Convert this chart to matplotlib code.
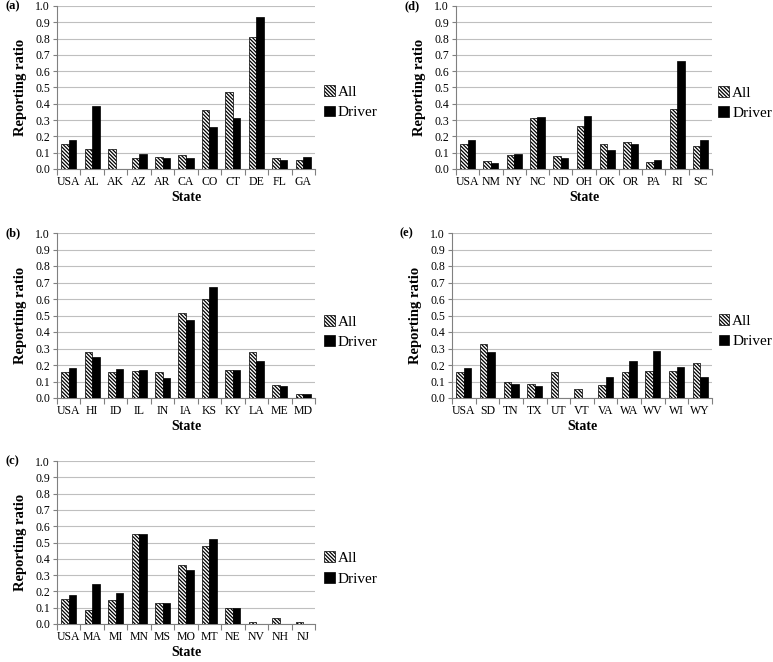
import numpy as np
import matplotlib
matplotlib.use("Agg")
import matplotlib.pyplot as plt

plt.rcParams['font.family'] = ['Liberation Serif', 'DejaVu Serif']
plt.rcParams['hatch.linewidth'] = 0.9

# data
states_a = ['USA', 'AL', 'AK', 'AZ', 'AR', 'CA', 'CO', 'CT', 'DE', 'FL', 'GA']
all_a = [0.155, 0.12, 0.125, 0.07, 0.075, 0.085, 0.365, 0.47, 0.81, 0.065, 0.055]
drv_a = [0.18, 0.385, 0.0, 0.095, 0.065, 0.065, 0.255, 0.31, 0.93, 0.055, 0.075]

states_b = ['USA', 'HI', 'ID', 'IL', 'IN', 'IA', 'KS', 'KY', 'LA', 'ME', 'MD']
all_b = [0.155, 0.28, 0.155, 0.165, 0.155, 0.515, 0.60, 0.17, 0.28, 0.08, 0.025]
drv_b = [0.18, 0.25, 0.175, 0.17, 0.12, 0.475, 0.675, 0.17, 0.225, 0.07, 0.025]

states_c = ['USA', 'MA', 'MI', 'MN', 'MS', 'MO', 'MT', 'NE', 'NV', 'NH', 'NJ']
all_c = [0.155, 0.085, 0.15, 0.555, 0.13, 0.365, 0.48, 0.10, 0.015, 0.035, 0.015]
drv_c = [0.18, 0.245, 0.19, 0.55, 0.13, 0.33, 0.52, 0.10, 0.0, 0.0, 0.0]

states_d = ['USA', 'NM', 'NY', 'NC', 'ND', 'OH', 'OK', 'OR', 'PA', 'RI', 'SC']
all_d = [0.155, 0.05, 0.085, 0.315, 0.08, 0.265, 0.155, 0.165, 0.045, 0.37, 0.14]
drv_d = [0.18, 0.035, 0.09, 0.32, 0.07, 0.325, 0.115, 0.155, 0.055, 0.66, 0.18]

states_e = ['USA', 'SD', 'TN', 'TX', 'UT', 'VT', 'VA', 'WA', 'WV', 'WI', 'WY']
all_e = [0.155, 0.325, 0.095, 0.085, 0.155, 0.055, 0.08, 0.155, 0.165, 0.165, 0.21]
drv_e = [0.18, 0.28, 0.085, 0.07, 0.0, 0.0, 0.13, 0.225, 0.285, 0.185, 0.125]

W, H = 773, 662
fig = plt.figure(figsize=(W / 100, H / 100), dpi=100)


def px_axes(l, r, t, b):
    return fig.add_axes([l / W, 1 - b / H, (r - l) / W, (b - t) / H])


def panel(ax, label, states, a, d, leg_x, leg_y):
    x = np.arange(len(states))
    bw = 0.32
    ax.bar(x - bw / 2, a, bw, color='white', edgecolor='black', hatch='\\' * 9,
           linewidth=0.5, label='All', zorder=3)
    ax.bar(x + bw / 2, d, bw, color='black', edgecolor='black', linewidth=0.5,
           label='Driver', zorder=3)
    ax.set_xlim(-0.5, len(states) - 0.5)
    ax.set_ylim(0, 1.0)
    ax.set_yticks(np.arange(0, 1.01, 0.1))
    ax.set_yticklabels(['%.1f' % v for v in np.arange(0, 1.01, 0.1)])
    ax.set_xticks(x)
    ax.set_xticklabels(states)
    ax.set_xticks(np.arange(-0.5, len(states), 1), minor=True)
    ax.tick_params(axis='x', which='major', length=0, labelsize=8.5, pad=5)
    ax.tick_params(axis='x', which='minor', length=4, color='#808080', width=0.8)
    ax.tick_params(axis='y', length=3, color='#808080', width=0.8, labelsize=8.5, pad=2)
    ax.grid(axis='y', color='#bfbfbf', linewidth=0.8, zorder=0)
    for s in ['top', 'right']:
        ax.spines[s].set_visible(False)
    for s in ['left', 'bottom']:
        ax.spines[s].set_color('#808080')
        ax.spines[s].set_linewidth(0.8)
    ax.set_ylabel('Reporting ratio', fontsize=10.5, fontweight='bold', labelpad=6)
    ax.set_xlabel('State', fontsize=10, fontweight='bold', labelpad=2)
    ax.legend(loc='center left', bbox_to_anchor=(leg_x, leg_y), frameon=False,
              fontsize=11, handlelength=0.7, handleheight=0.7, handletextpad=0.2,
              borderaxespad=0, borderpad=0, labelspacing=0.45)
    ax.text(-0.2, 1.0, label, transform=ax.transAxes, fontsize=9, fontweight='bold',
            ha='left', va='center')


ax_a = px_axes(57, 315, 6, 169)
panel(ax_a, '(a)', states_a, all_a, drv_a, 1.035, 0.41)
ax_b = px_axes(57, 315, 233, 398)
panel(ax_b, '(b)', states_b, all_b, drv_b, 1.035, 0.40)
ax_c = px_axes(57, 315, 461, 624)
panel(ax_c, '(c)', states_c, all_c, drv_c, 1.035, 0.34)
ax_d = px_axes(456, 712, 6, 169)
panel(ax_d, '(d)', states_d, all_d, drv_d, 1.025, 0.405)
ax_e = px_axes(452, 712, 233, 398)
panel(ax_e, '(e)', states_e, all_e, drv_e, 1.025, 0.405)

fig.savefig('out.png', dpi=100)
